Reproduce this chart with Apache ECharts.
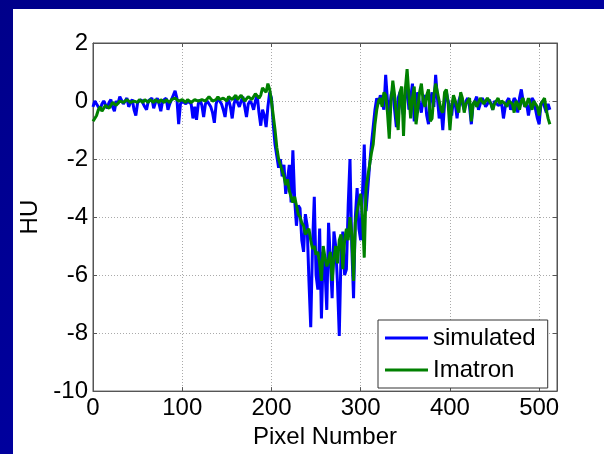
<!DOCTYPE html>
<html>
<head>
<meta charset="utf-8">
<script src="https://cdn.jsdelivr.net/npm/echarts@6/dist/echarts.min.js"></script>
<style>
  html, body { margin: 0; padding: 0; }
  body {
    width: 604px; height: 454px; overflow: hidden;
    background: linear-gradient(135deg, #00008a 0%, #0000a0 50%, #000090 100%);
    position: relative;
  }
  #panel {
    position: absolute; left: 13px; top: 9px; right: 0; bottom: 0;
    background: #fff;
  }
  #chart { position: absolute; left: 0; top: 0; width: 604px; height: 454px; }
</style>
</head>
<body>
<div id="panel"></div>
<div id="chart"></div>
<script>
// pixel numbers, every 2nd pixel
const pixels = [];
for (let p = 0; p <= 512; p += 2) pixels.push(p);

const simulated = [
  -0.2, 0.0, -0.1, -0.05, -0.3, -0.1, 0.0, 0.05, -0.25, -0.05,
  0.05, -0.2, -0.35, 0.0, -0.1, 0.15, 0.1, -0.1, -0.05, 0.1,
  -0.2, -0.05, 0.05, -0.3, -0.5, -0.05, -0.1, 0.05, 0.0, -0.2,
  -0.3, 0.0, 0.05, 0.1, -0.25, -0.05, 0.1, -0.1, -0.35, 0.0,
  0.0, 0.1, -0.3, -0.1, 0.05, 0.2, 0.35, 0.1, -0.8, -0.1,
  0.0, 0.05, -0.1, 0.0, 0.05, -0.1, -0.6, -0.2, -0.65, -0.1,
  0.05, -0.15, -0.55, -0.1, 0.0, 0.05, -0.2, -0.4, -0.75, -0.1,
  0.1, 0.0, -0.1, -0.3, -0.55, -0.05, 0.05, -0.2, -0.6, -0.1,
  0.1, 0.05, -0.2, 0.0, 0.15, -0.2, -0.55, -0.1, 0.0, -0.1,
  -0.3, 0.0, 0.2, -0.4, -0.85, -0.3, -0.5, -0.9, -0.2, 0.3,
  0.1, -0.8, -1.5, -1.9, -2.3, -2.0, -2.6, -2.2, -3.2, -2.7,
  -2.2, -3.5, -1.7, -3.4, -4.3, -3.6, -3.7, -4.8, -5.2, -3.9,
  -4.3, -6.2, -7.8, -5.0, -3.3, -6.0, -6.5, -4.4, -7.5, -5.2,
  -5.8, -7.2, -4.2, -5.5, -6.8, -4.5, -5.0, -6.3, -8.1, -5.2,
  -4.5, -6.0, -5.8, -3.6, -2.0, -5.0, -6.8, -4.0, -3.0, -4.4,
  -4.8, -3.2, -1.5, -3.8, -3.0, -2.2, -1.5, -0.9, -0.3, 0.1,
  -0.1, 0.2, 0.2, -0.3, 0.9, 0.0, -0.5, 0.2, 0.4, -0.3,
  -0.9, 0.1, 0.3, -0.2, -0.5, 0.2, 0.6, -0.3, 0.1, 0.6,
  -0.7, 0.0, 0.3, -0.1, -0.4, 0.1, 0.2, -0.5, -0.8, 0.0,
  0.3, -0.2, 0.9, 0.1, -0.6, -0.2, -1.0, -0.1, 0.3, 0.0,
  -0.2, -0.5, 0.1, -0.1, -0.6, 0.0, 0.2, -0.1, -0.3, 0.0,
  0.1, -0.2, -0.8, -0.1, 0.0, 0.15, -0.3, -0.1, 0.1, 0.0,
  -0.2, -0.1, 0.05, -0.1, -0.3, 0.0, 0.0, -0.15, -0.2, -0.1,
  -0.6, -0.2, 0.0, 0.1, -0.3, -0.1, 0.1, 0.0, -0.4, 0.1,
  0.4, 0.0, -0.2, -0.1, -0.5, -0.1, 0.1, 0.0, -0.3, -0.6,
  -0.8, -0.1, 0.0, -0.2, -0.4, -0.1, -0.3
];

const imatron = [
  -0.7, -0.6, -0.5, -0.3, -0.2, -0.35, -0.3, -0.15, -0.1, -0.25,
  -0.15, -0.05, 0.0, -0.15, -0.1, 0.0, 0.05, -0.05, -0.05, 0.05,
  0.0, -0.05, -0.1, 0.0, 0.0, -0.05, 0.05, 0.0, -0.05, 0.05,
  0.0, -0.05, 0.05, 0.0, -0.05, 0.05, 0.0, -0.05, 0.05, 0.0,
  -0.05, 0.05, 0.0, -0.05, 0.05, 0.0, 0.1, 0.05, 0.0, -0.05,
  0.05, 0.0, -0.05, 0.05, 0.05, -0.05, 0.0, 0.05, 0.1, 0.0,
  0.0, 0.05, 0.1, 0.0, 0.05, 0.15, 0.1, 0.0, 0.0, 0.05,
  0.15, 0.05, 0.05, 0.1, 0.1, 0.0, 0.15, 0.1, 0.05, 0.1,
  0.2, 0.05, 0.1, 0.2, 0.15, 0.0, 0.05, 0.15, 0.2, 0.05,
  0.1, 0.25, 0.3, 0.1, 0.2, 0.45, 0.5, 0.3, 0.6, 0.4,
  0.0, -0.5, -1.0, -1.6, -2.0, -2.2, -2.4, -2.6, -2.9, -2.7,
  -3.1, -3.3, -3.5, -3.3, -3.6, -3.9, -4.0, -4.2, -4.3, -4.6,
  -4.5, -4.4, -4.8, -5.1, -5.0, -5.3, -5.2, -5.6, -6.2, -5.0,
  -5.4, -5.7, -5.5, -5.2, -6.2, -5.4, -5.0, -5.6, -4.8, -4.6,
  -5.8, -4.8, -4.4, -4.8, -4.0, -4.6, -6.2, -4.2, -3.8, -3.5,
  -3.2, -4.0, -5.4, -3.0, -2.6, -2.2, -1.8, -1.5, -0.8, -0.3,
  0.0, 0.1, -0.2, 0.3, 0.2, -0.4, -1.3, 0.0, 0.7, 0.2,
  -0.5, -1.0, 0.3, 0.5, -1.2, 0.4, 1.1, 0.2, -0.6, 0.1,
  0.5, -0.8, -0.3, 0.3, 0.6, 0.0, -0.2, 0.2, 0.4, -0.7,
  -0.6, 0.2, 0.6, 0.3, 0.0, -0.3, -0.4, 0.3, 0.4, -0.1,
  -1.0, -0.2, 0.2, 0.0, -0.2, -0.4, 0.3, 0.1, -0.4, -0.1,
  0.0, 0.1, -0.7, -0.1, 0.0, -0.2, -0.2, 0.1, 0.1, -0.1,
  -0.1, 0.1, 0.0, -0.1, -0.3, -0.1, 0.0, 0.1, -0.1, 0.0,
  0.05, -0.1, -0.2, 0.0, 0.0, -0.1, -0.4, 0.0, -0.1, -0.3,
  0.0, 0.1, -0.2, -0.1, 0.1, -0.1, -0.3, 0.0, -0.1, -0.2,
  -0.5, -0.1, 0.0, 0.1, -0.3, -0.6, -0.8
];

const xTicks = [0, 100, 200, 300, 400, 500];
const yTicks = [-10, -8, -6, -4, -2, 0, 2];

const chart = echarts.init(document.getElementById("chart"));

const font = "Liberation Sans, Arial, sans-serif";
const axisColor = "#555";
const gridLine = { show: true, lineStyle: { color: "#aaa", type: [1, 2], width: 1 } };
const tick = { show: true, inside: true, length: 4, lineStyle: { color: axisColor } };

chart.setOption({
  animation: false,
  textStyle: { fontFamily: font },
  grid: {
    left: 93, right: 47, top: 43, bottom: 57,
    show: true, backgroundColor: "#fff", borderColor: axisColor, borderWidth: 1,
  },
  xAxis: [
    {
      type: "value", min: 0, max: 520, interval: 100,
      name: "Pixel Number", nameLocation: "middle", nameGap: 33,
      nameTextStyle: { color: "#000", fontSize: 24, fontFamily: font },
      axisLine: { show: true, onZero: false, lineStyle: { color: axisColor } },
      axisTick: { ...tick, customValues: xTicks },
      axisLabel: { color: "#000", fontSize: 24, margin: 5, customValues: xTicks },
      splitLine: gridLine,
    },
    {
      type: "value", min: 0, max: 520, interval: 100, position: "top",
      axisLine: { show: true, onZero: false, lineStyle: { color: axisColor } },
      axisTick: { ...tick, customValues: xTicks },
      axisLabel: { show: false },
      splitLine: { show: false },
    },
  ],
  yAxis: [
    {
      type: "value", min: -10, max: 2, interval: 2,
      name: "HU", nameLocation: "middle", nameGap: 50, nameRotate: 90,
      nameTextStyle: { color: "#000", fontSize: 24, fontFamily: font },
      axisLine: { show: true, onZero: false, lineStyle: { color: axisColor } },
      axisTick: tick,
      axisLabel: { color: "#000", fontSize: 24, margin: 5, customValues: yTicks },
      splitLine: gridLine,
    },
    {
      type: "value", min: -10, max: 2, interval: 2, position: "right",
      axisLine: { show: true, onZero: false, lineStyle: { color: axisColor } },
      axisTick: tick,
      axisLabel: { show: false },
      splitLine: { show: false },
    },
  ],
  legend: {
    orient: "vertical",
    left: 378, top: 320,
    padding: [6, 12, 6, 7],
    itemGap: 8,
    itemWidth: 43, itemHeight: 3,
    icon: "rect",
    backgroundColor: "#fff",
    borderColor: "#333", borderWidth: 1,
    textStyle: { color: "#000", fontSize: 24, fontFamily: font },
    data: ["simulated", "Imatron"],
  },
  series: [
    {
      name: "simulated", type: "line", showSymbol: false,
      data: pixels.map((p, i) => [p, simulated[i]]),
      lineStyle: { color: "#0000ff", width: 3 },
      itemStyle: { color: "#0000ff" },
    },
    {
      name: "Imatron", type: "line", showSymbol: false,
      data: pixels.map((p, i) => [p, imatron[i]]),
      lineStyle: { color: "#008000", width: 3 },
      itemStyle: { color: "#008000" },
    },
  ],
});
</script>
</body>
</html>
